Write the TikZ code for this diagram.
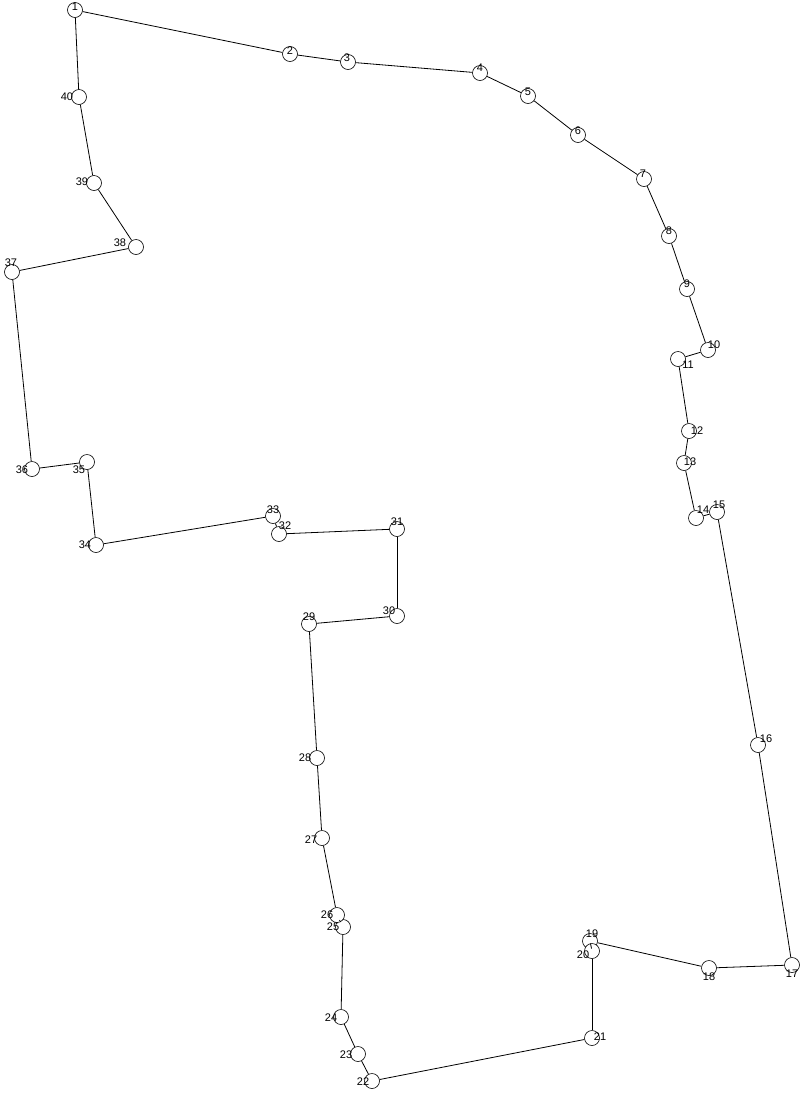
\documentclass[tikz,border=0pt]{standalone}
\usepackage{fontspec}
\setmainfont{Liberation Sans}
\begin{document}
\begin{tikzpicture}[x=1pt,y=-1pt,
  vtx/.style={circle,draw,fill=white,line width=0.6pt,minimum size=15pt,inner sep=0pt,
    path picture={\fill (path picture bounding box.center) circle (0.5pt);}},
  lbl/.style={inner sep=0pt,font=\fontsize{11}{11}\selectfont},
  edge/.style={line width=0.8pt}]
\useasboundingbox (0,0) rectangle (804,1093);
\foreach \i/\x/\y in {1/75/10,2/290/54,3/348/62,4/480/73,5/528/96,6/578/135,7/644/179,8/669/236,9/687/289,10/708/350,
 11/678/359,12/689/431,13/684/463,14/696/518,15/717/512,16/758/745,17/792/965,18/709/968,19/590/941,20/592/951,
 21/592/1038,22/372/1081,23/358/1054,24/341/1017,25/343/927,26/337/915,27/322/838,28/317/758,29/309/624,30/397/616,
 31/397/529,32/279/534,33/273/516,34/96/545,35/87/462,36/32/469,37/12/272,38/136/247,39/94/183,40/79/97}
 {\node[vtx] (p\i) at (\x,\y) {};}
\foreach \i [evaluate=\i as \j using {int(mod(\i,40)+1)}] in {1,...,40}
 {\draw[edge] (p\i) -- (p\j);}
\foreach \i/\x/\y in {1/75/7,2/290/51,3/347/58,4/480/68,5/528/92,6/578/131,7/643/174,8/669/231,9/687/284,10/714/345,
 11/688/365,12/697/431,13/690/462,14/703/510,15/719/505,16/766/739,17/792/974,18/709/977,19/592/934,20/583/955,
 21/600/1037,22/363/1082,23/346/1055,24/331/1018,25/333/927,26/327/915,27/311/840,28/305/758,29/309/617,30/389/611,
 31/397/522,32/285/526,33/273/510,34/85/545,35/79/470,36/22/470,37/11/263,38/120/243,39/82/182,40/67/97}
 {\node[lbl] (l\i) at (\x,\y) {\i};}
\end{tikzpicture}
\end{document}
